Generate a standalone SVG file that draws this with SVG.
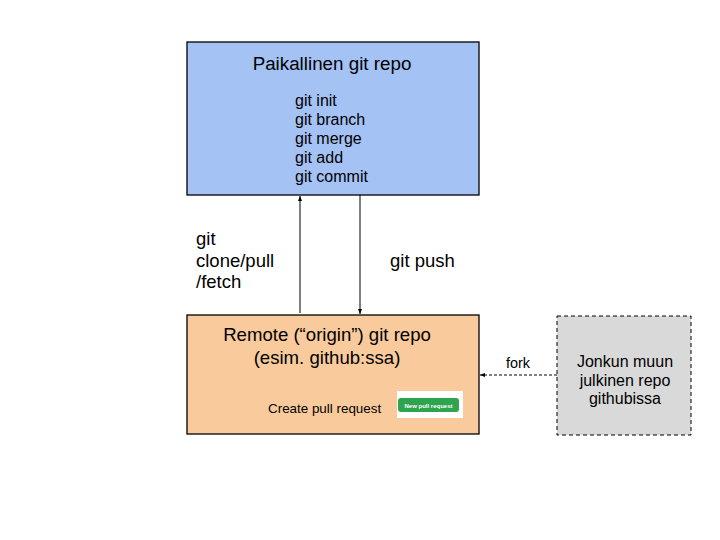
<svg xmlns="http://www.w3.org/2000/svg" width="720" height="540" viewBox="0 0 720 540">
<defs>
<style>
text{font-family:"Liberation Sans",Arial,sans-serif;fill:#000}
.box{stroke:#000;stroke-width:1.3}
.conn{stroke:#000;stroke-width:1;fill:none}
.lbl{font-size:18.5px}
.cmd{font-size:16px}
</style>
<marker id="ah" viewBox="0 0 10 10" refX="10" refY="5" markerWidth="5" markerHeight="5" orient="auto"><path d="M0,1 L10,5 L0,9 Z" fill="#000"/></marker>
</defs>
<rect width="720" height="540" fill="#fff"/>
<g id="local">
<rect class="box" x="187" y="42" width="292" height="153" fill="#a4c2f4"/>
<text x="332" y="70" font-size="18.8" text-anchor="middle">Paikallinen git repo</text>
<text class="cmd" x="295" y="106">git init</text>
<text class="cmd" x="295" y="125">git branch</text>
<text class="cmd" x="295" y="144">git merge</text>
<text class="cmd" x="295" y="163">git add</text>
<text class="cmd" x="295" y="182">git commit</text>
</g>
<g id="remote">
<rect class="box" x="187" y="315" width="292" height="119" fill="#f9cb9c"/>
<text x="327" y="341" font-size="18.6" text-anchor="middle">Remote (“origin”) git repo</text>
<text x="327" y="364" font-size="18.6" text-anchor="middle">(esim. github:ssa)</text>
<text x="268" y="413" font-size="13.4">Create pull request</text>
<rect x="397" y="391" width="66" height="27" fill="#fff"/>
<rect x="398" y="398" width="61" height="14" rx="3" fill="#2ea44f"/>
<text x="428.5" y="407.5" font-size="6" font-weight="bold" text-anchor="middle" style="fill:#fff">New pull request</text>
</g>
<g id="other">
<rect x="557" y="316" width="134" height="119" fill="#d9d9d9" stroke="#000" stroke-width="1" stroke-dasharray="4,3"/>
<text x="625" y="367" font-size="16" text-anchor="middle">Jonkun muun</text>
<text x="625" y="386" font-size="16" text-anchor="middle">julkinen repo</text>
<text x="625" y="404" font-size="16" text-anchor="middle">githubissa</text>
</g>
<g id="connectors">
<line class="conn" x1="300" y1="313" x2="300" y2="196" marker-end="url(#ah)"/>
<line class="conn" x1="360" y1="195" x2="360" y2="314" marker-end="url(#ah)"/>
<line class="conn" x1="557" y1="375" x2="480" y2="375" stroke-dasharray="3,2" marker-end="url(#ah)"/>
<text class="lbl" x="196" y="245">git</text>
<text class="lbl" x="196" y="267">clone/pull</text>
<text class="lbl" x="196" y="288">/fetch</text>
<text class="lbl" x="390" y="267">git push</text>
<text x="506" y="368" font-size="14.4">fork</text>
</g>
</svg>
